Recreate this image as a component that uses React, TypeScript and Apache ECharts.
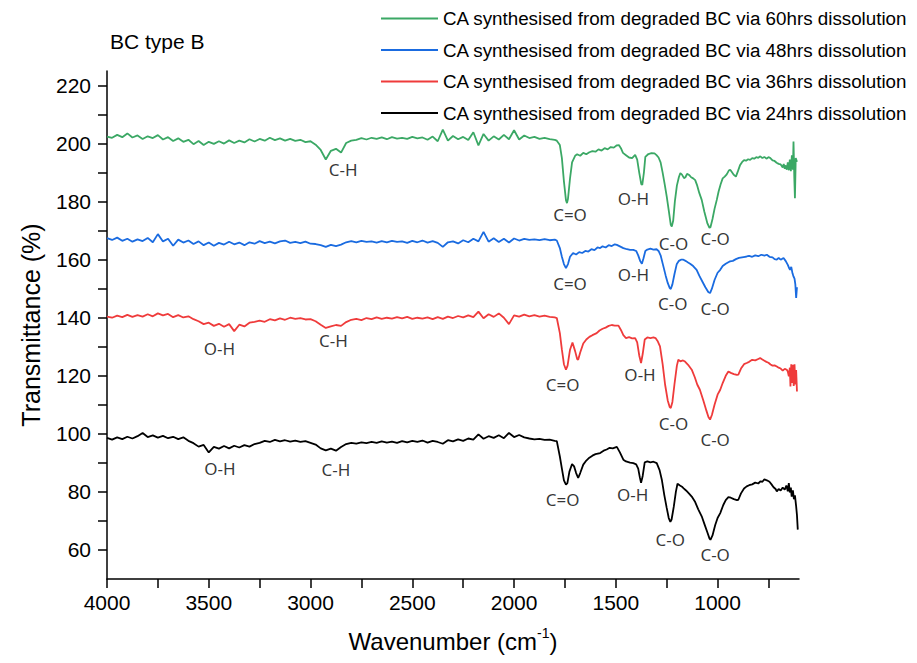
import React, { useEffect, useRef } from "react";
import * as echarts from "echarts";

// Shared wavenumber grid for the noisy baseline region (cm-1)
const wnBase = [
  4000, 3975, 3950, 3925, 3900, 3875, 3850, 3825, 3800, 3775,
  3750, 3725, 3700, 3675, 3650, 3625, 3600, 3575, 3550, 3525,
  3500, 3475, 3450, 3425, 3400, 3375, 3350, 3325, 3300, 3275,
  3250, 3225, 3200, 3175, 3150, 3125, 3100, 3075, 3050, 3025,
  3000, 2975, 2950, 2925, 2900, 2875, 2850, 2825, 2800, 2775,
  2750, 2725, 2700, 2675, 2650, 2625, 2600, 2575, 2550, 2525,
  2500, 2475, 2450, 2425, 2400, 2375, 2350, 2325, 2300, 2275,
  2250, 2225, 2200, 2175, 2150, 2125, 2100, 2075, 2050, 2025,
  2000, 1975, 1950, 1925, 1900, 1875, 1850, 1825, 1800,
];

const greenBase = [
  202.4, 202.0, 203.0, 202.2, 203.5, 202.1, 202.8, 201.6, 202.5, 201.9,
  202.9, 201.4, 202.2, 200.9, 201.8, 200.6, 201.3, 199.8, 200.9, 199.5,
  200.6, 199.9, 200.8, 200.0, 201.1, 200.2, 201.0, 200.4, 201.5, 200.7,
  201.6, 201.0, 202.0, 201.2, 201.8, 201.0, 201.6, 200.9, 201.3, 200.5,
  200.8, 199.6, 197.8, 194.5, 197.5, 198.2, 196.9, 200.2, 201.0, 201.3,
  201.9, 201.4, 202.0, 201.6, 202.1, 201.5, 202.2, 201.7, 202.0, 201.6,
  202.3, 201.8, 202.1, 201.3, 202.4, 200.8, 204.8, 201.0, 202.6, 201.5,
  202.3, 201.2, 203.9, 199.4, 203.3, 201.0, 202.5, 201.4, 203.0, 201.5,
  204.6, 201.4, 202.8, 201.9, 202.3, 201.6, 202.0, 201.5, 201.3,
];

const blueBase = [
  167.4, 166.8, 167.6, 166.5, 167.2, 166.2, 167.0, 166.4, 167.5, 166.0,
  168.8, 166.3, 167.2, 164.8, 166.9, 165.9, 166.6, 165.4, 166.3, 165.0,
  165.9, 164.8, 165.8, 165.2, 166.2, 165.3, 165.9, 165.0, 166.0, 165.5,
  166.4, 165.7, 166.2, 165.6, 166.3, 166.6, 165.8, 166.1, 165.7, 166.2,
  165.5, 165.4, 165.0, 164.4, 165.1, 164.7, 165.2, 166.0, 166.4, 166.0,
  166.5, 166.1, 166.3, 165.9, 166.4, 166.0, 166.5, 166.1, 166.3, 165.8,
  166.5, 166.0, 166.6, 165.9, 166.4, 165.8, 164.4, 166.0, 166.3, 165.6,
  166.7, 166.0, 167.2, 166.3, 169.6, 166.2, 167.4, 166.1, 167.2, 165.9,
  167.3, 166.6, 167.2, 166.8, 167.0, 166.7, 167.1, 166.7, 166.9,
];

const redBase = [
  140.4, 140.0, 140.7, 140.2, 141.0, 140.3, 140.9, 140.4, 141.2, 140.5,
  141.5, 140.8, 141.3, 140.2, 140.9, 140.1, 140.5, 139.5, 138.8, 137.8,
  138.3, 137.2, 137.9, 136.9, 137.8, 135.4, 137.6, 137.0, 138.3, 138.6,
  139.0, 138.6, 139.5, 139.1, 139.8, 139.3, 140.0, 139.6, 139.9, 139.4,
  139.5, 138.8, 137.6, 136.5, 137.0, 137.5, 137.2, 138.5, 139.3, 139.6,
  139.2, 139.9, 139.5, 140.1, 139.6, 140.0, 139.7, 140.2, 139.8, 140.3,
  139.6, 140.0, 139.7, 140.1, 139.5, 140.2, 139.6, 140.4, 139.9, 140.6,
  140.1, 140.8, 140.2, 142.1, 139.8, 141.2, 140.3, 141.5, 140.0, 137.8,
  140.8, 140.4, 141.1, 140.5, 140.9, 140.4, 140.7, 140.3, 140.1,
];

const blackBase = [
  98.6, 98.0, 98.8, 98.2, 99.0, 98.4, 99.2, 100.3, 98.9, 99.5,
  98.7, 99.3, 98.5, 99.0, 98.2, 98.8, 97.6, 96.8, 95.6, 96.2,
  93.6, 95.5, 94.9, 95.8, 95.0, 95.9, 95.3, 96.1, 95.6, 96.5,
  96.9, 97.6, 97.2, 97.9, 97.4, 97.8, 97.3, 97.7, 97.2, 97.5,
  96.9, 96.3, 95.0, 94.3, 94.9, 94.2, 95.5, 96.5, 96.9, 96.6,
  97.1, 96.8, 97.2, 96.9, 97.4, 97.0, 97.3, 96.9, 97.5, 97.1,
  97.6, 97.2, 97.7, 97.0, 97.6, 97.2, 96.6, 97.8, 97.4, 98.1,
  97.6, 98.4, 98.0, 99.8, 98.3, 99.2, 98.6, 99.5, 98.5, 100.3,
  98.9, 99.6, 98.8, 98.4, 98.1, 98.3, 97.9, 98.0, 97.6,
];

// Fingerprint region [wavenumber, transmittance]
const greenPeaks = [
  [1790, 201.0], [1775, 199.5], [1765, 195], [1755, 187], [1745, 180.5], [1740, 179.5],
  [1735, 181], [1725, 188], [1715, 193.5], [1700, 195.8], [1690, 196.3], [1675, 195.8],
  [1660, 196.8], [1645, 196.3], [1630, 197.0], [1615, 197.4], [1600, 197.2], [1585, 198.0],
  [1570, 197.6], [1555, 198.4], [1540, 198.0], [1525, 198.8], [1510, 198.6], [1495, 199.4],
  [1485, 199.5], [1475, 198.4], [1465, 196.8], [1450, 196.0], [1435, 195.2], [1420, 195.0],
  [1405, 196.1], [1395, 194.5], [1385, 190], [1375, 186], [1370, 185.8], [1362, 190],
  [1355, 195.4], [1340, 196.4], [1325, 196.7], [1310, 196.6], [1300, 196.0], [1290, 195.2],
  [1280, 193.5], [1270, 190], [1260, 186], [1250, 181.8], [1240, 177], [1230, 172],
  [1225, 171.4], [1218, 173.5], [1210, 180], [1200, 185.5], [1190, 188.5], [1183, 189.8],
  [1175, 189.3], [1165, 188.1], [1158, 188.4], [1150, 189.6], [1140, 189.2], [1130, 188.4],
  [1120, 188.0], [1110, 187.4], [1100, 185.5], [1090, 183], [1078, 180.6], [1065, 176.5],
  [1050, 172.5], [1040, 171], [1035, 171.2], [1025, 174], [1015, 177.5], [1004, 180.6],
  [995, 183.5], [985, 186], [975, 188], [965, 188.6], [955, 189.4], [945, 190.7],
  [938, 191], [930, 190.2], [920, 189.2], [910, 188.6], [900, 190.5], [890, 192.5],
  [880, 193.6], [870, 194.3], [860, 194.1], [850, 194.6], [840, 194.4], [830, 195.0],
  [820, 194.8], [810, 195.3], [800, 195.1], [790, 195.6], [780, 195.0], [770, 195.4],
  [760, 194.8], [750, 195.3], [742, 195.1], [730, 194.2], [720, 194.0], [710, 193.4],
  [700, 193.0], [690, 192.8], [680, 191.8], [675, 193.0], [670, 191.3], [665, 192.5],
  [660, 191.0], [655, 193.5], [650, 190.8], [645, 194.5], [640, 190.5], [635, 196],
  [630, 191], [627, 200.7], [623, 188], [620, 181.2], [616, 195], [610, 193.7],
];

const bluePeaks = [
  [1790, 166.6], [1775, 164], [1765, 161], [1755, 158.5], [1745, 157.1], [1735, 158.5],
  [1725, 161], [1710, 162.3], [1695, 161.8], [1680, 162.6], [1665, 162.3], [1650, 163.0],
  [1635, 162.8], [1620, 163.6], [1605, 163.3], [1590, 164.2], [1577, 164.0], [1565, 164.6],
  [1550, 164.2], [1535, 165.0], [1520, 164.7], [1505, 165.3], [1495, 165.1], [1480, 164.6],
  [1463, 164.0], [1445, 163.6], [1430, 163.4], [1414, 163.4], [1400, 163.0], [1390, 161.5],
  [1380, 159.5], [1372, 158.6], [1364, 160.5], [1355, 163.0], [1345, 163.5], [1330, 163.8],
  [1315, 163.5], [1300, 163.6], [1290, 163.0], [1280, 161.5], [1266, 157.6], [1255, 154.5],
  [1245, 152], [1235, 150.2], [1230, 149.9], [1222, 151.5], [1212, 155], [1201, 158.4],
  [1190, 159.6], [1180, 160.0], [1168, 160.0], [1155, 159.5], [1145, 159.0], [1135, 158.6],
  [1120, 157.8], [1103, 156.5], [1090, 154.5], [1075, 152.5], [1060, 150.5], [1045, 148.8],
  [1037, 148.5], [1028, 150], [1015, 153], [1000, 155.5], [987, 156.5], [975, 157.8],
  [960, 158.6], [945, 159.2], [939, 159.4], [925, 159.6], [910, 160.2], [895, 160.6],
  [880, 160.8], [865, 161.0], [857, 161.1], [845, 161.3], [830, 161.0], [815, 161.5],
  [800, 161.2], [785, 161.7], [770, 161.4], [758, 161.7], [745, 161.0], [730, 160.8],
  [720, 160.2], [709, 160.0], [700, 160.6], [690, 160.0], [676, 160.6], [665, 159.5],
  [655, 158.2], [648, 157.0], [644, 156.5], [638, 157.5], [632, 155.3], [627, 154.2],
  [622, 153.5], [618, 151.5], [614, 146.8], [610, 150.5],
];

const redPeaks = [
  [1790, 139.9], [1775, 134.7], [1765, 129], [1755, 124], [1745, 122.1], [1737, 123.5],
  [1725, 129], [1713, 131.5], [1700, 128.5], [1690, 125.8], [1685, 125.5], [1675, 128],
  [1660, 131.1], [1645, 132.5], [1630, 133.4], [1615, 134.0], [1594, 134.7], [1580, 135.6],
  [1565, 136.2], [1550, 136.6], [1535, 137.2], [1520, 137.5], [1505, 137.3], [1487, 137.3],
  [1475, 135.8], [1463, 134.0], [1450, 133.0], [1435, 133.3], [1420, 132.9], [1405, 133.0],
  [1395, 131.5], [1385, 127], [1376, 124.4], [1368, 127.5], [1358, 132.5], [1345, 133.2],
  [1330, 133.0], [1315, 133.2], [1305, 133.0], [1295, 132.0], [1283, 130.1], [1270, 124],
  [1258, 117], [1245, 111.5], [1235, 109.2], [1230, 108.9], [1222, 111], [1212, 117],
  [1200, 123.5], [1193, 125.5], [1183, 125.0], [1170, 125.3], [1160, 124.9], [1145, 123.8],
  [1127, 122.1], [1112, 119.5], [1100, 117], [1087, 115.2], [1070, 111.5], [1055, 108],
  [1045, 105.8], [1037, 104.9], [1028, 106.5], [1015, 110], [1000, 113.5], [987, 115.2],
  [975, 117.5], [960, 120], [947, 121.5], [935, 121.0], [920, 120.6], [905, 120.3],
  [898, 120.4], [885, 122.5], [870, 124], [857, 124.4], [845, 124.8], [830, 125.5],
  [815, 125.3], [800, 125.8], [791, 126.1], [780, 125.6], [770, 125.2], [760, 124.8],
  [750, 124.5], [740, 123.9], [730, 123.5], [720, 123.6], [709, 123.2], [700, 122.8],
  [690, 122.5], [680, 121.8], [670, 122.4], [660, 122.1], [655, 121.5], [650, 119.8],
  [645, 122.8], [642, 116.3], [638, 124], [634, 117.5], [630, 123.8], [626, 116.5],
  [622, 124], [618, 117], [614, 122], [610, 114.6],
];

const blackPeaks = [
  [1790, 97.5], [1775, 92.2], [1765, 88], [1755, 84], [1745, 82.5], [1738, 83],
  [1728, 87], [1715, 89.6], [1705, 88.8], [1695, 86.5], [1685, 84.8], [1675, 86.5],
  [1660, 89.4], [1645, 90.8], [1630, 91.8], [1615, 92.5], [1600, 93.0], [1577, 93.4],
  [1560, 94.2], [1545, 94.6], [1530, 95.2], [1515, 95.0], [1495, 95.5], [1480, 93.6],
  [1463, 91.1], [1450, 90.5], [1430, 90.1], [1414, 89.9], [1400, 89.5], [1390, 88],
  [1382, 85], [1376, 83.1], [1368, 85.5], [1358, 90.2], [1345, 90.5], [1330, 90.2],
  [1315, 90.4], [1299, 89.9], [1285, 87.5], [1274, 84.2], [1262, 79], [1250, 74.5],
  [1240, 71], [1232, 69.7], [1226, 70.5], [1215, 75], [1205, 80], [1197, 82.8],
  [1185, 82.2], [1175, 81.8], [1168, 81.3], [1155, 80.5], [1140, 79.4], [1127, 78.4],
  [1110, 76.5], [1095, 74], [1078, 71.6], [1065, 69], [1050, 66], [1040, 64],
  [1035, 63.5], [1025, 65], [1012, 68.5], [1000, 71], [987, 72.7], [972, 75.5],
  [960, 77.2], [947, 78.2], [935, 78.0], [920, 77.5], [905, 77.2], [898, 77.3],
  [885, 79.5], [870, 81.2], [857, 81.9], [845, 82.3], [830, 82.6], [815, 83.2],
  [800, 82.9], [790, 83.6], [780, 83.5], [770, 84.3], [758, 84.0], [745, 83.5],
  [735, 82.6], [725, 81.6], [715, 81.0], [709, 80.2], [700, 81.0], [690, 80.5],
  [680, 81.5], [670, 80.8], [662, 82.2], [655, 80.2], [650, 83.0], [645, 79.8],
  [640, 81.5], [636, 78.4], [630, 80.5], [625, 77.5], [620, 78.8], [614, 75.0],
  [610, 72], [606, 67],
];

const seriesNames = [
  "CA synthesised from degraded BC via 60hrs dissolution",
  "CA synthesised from degraded BC via 48hrs dissolution",
  "CA synthesised from degraded BC via 36hrs dissolution",
  "CA synthesised from degraded BC via 24hrs dissolution",
];
const seriesColors = ["#3BA865", "#1A6BE0", "#EF3B3B", "#000000"];

// Peak annotations
const annoText = [
  "C-H", "C=O", "O-H", "C-O", "C-O",
  "C=O", "O-H", "C-O", "C-O",
  "O-H", "C-H", "C=O", "O-H", "C-O", "C-O",
  "O-H", "C-H", "C=O", "O-H", "C-O", "C-O",
];
const annoWn = [
  2840, 1725, 1414, 1217, 1012,
  1725, 1414, 1220, 1012,
  3448, 2888, 1761, 1381, 1217, 1012,
  3445, 2875, 1761, 1417, 1233, 1012,
];
const annoVal = [
  190.9, 175.4, 181.2, 165.7, 167.2,
  151.9, 154.8, 145.0, 143.3,
  129.5, 132.1, 116.9, 120.3, 103.7, 98.2,
  88.0, 87.7, 77.3, 79.0, 63.5, 58.4,
];

const xTicks = [4000, 3750, 3500, 3250, 3000, 2750, 2500, 2250, 2000, 1750, 1500, 1250, 1000, 750];
const xLabels = [4000, 3500, 3000, 2500, 2000, 1500, 1000];
const yTicks = [60, 70, 80, 90, 100, 110, 120, 130, 140, 150, 160, 170, 180, 190, 200, 210, 220];
const yLabels = [60, 80, 100, 120, 140, 160, 180, 200, 220];

export default function App() {
  const ref = useRef<HTMLDivElement>(null);
  useEffect(() => {
    if (!ref.current) return;
    const chart = echarts.init(ref.current, null, { renderer: "svg" });
    const mk = (base: number[], peaks: number[][]) => [
      ...wnBase.map((w, i) => [w, base[i]]),
      ...peaks,
    ];
    const dataSets = [
      mk(greenBase, greenPeaks),
      mk(blueBase, bluePeaks),
      mk(redBase, redPeaks),
      mk(blackBase, blackPeaks),
    ];
    const axisFont = "Liberation Sans, Arial, sans-serif";
    const option: any = {
      animation: false,
      grid: { left: 107, right: 118, top: 71, bottom: 84 },
      legend: {
        data: seriesNames,
        orient: "vertical",
        left: 376,
        top: 4,
        icon: "rect",
        itemWidth: 57,
        itemHeight: 2,
        itemGap: 12.5,
        textStyle: { fontSize: 18.8, lineHeight: 19, fontFamily: axisFont, color: "#000" },
        selectedMode: false,
      },
      graphic: [
        {
          type: "text",
          left: 110,
          top: 31,
          style: { text: "BC type B", fontSize: 21, fontFamily: axisFont, fill: "#000" },
        },
      ],
      xAxis: {
        type: "value",
        inverse: true,
        min: 600,
        max: 4000,
        axisLine: { show: true, lineStyle: { color: "#000", width: 1.5 } },
        axisTick: { show: true, customValues: xTicks, length: 9, lineStyle: { color: "#000", width: 1.5 } },
        axisLabel: {
          customValues: xLabels,
          formatter: (v: number) => String(v),
          fontSize: 21,
          fontFamily: axisFont,
          color: "#000",
          margin: 13,
        },
        splitLine: { show: false },
        name: "{a|Wavenumber (cm}{b|-1}{a|)}",
        nameLocation: "middle",
        nameGap: 47,
        nameTextStyle: {
          rich: {
            a: { fontSize: 24, fontFamily: axisFont, color: "#000", lineHeight: 30 },
            b: { fontSize: 14, fontFamily: axisFont, color: "#000", lineHeight: 14, verticalAlign: "top" },
          },
        },
      },
      yAxis: {
        type: "value",
        min: 50,
        max: 225,
        axisLine: { show: true, lineStyle: { color: "#000", width: 1.5 } },
        axisTick: { show: true, customValues: yTicks, length: 9, lineStyle: { color: "#000", width: 1.5 } },
        axisLabel: {
          customValues: yLabels,
          formatter: (v: number) => String(v),
          fontSize: 21,
          fontFamily: axisFont,
          color: "#000",
          margin: 16,
        },
        splitLine: { show: false },
        name: "Transmittance (%)",
        nameLocation: "middle",
        nameGap: 64,
        nameTextStyle: { fontSize: 25, fontFamily: axisFont, color: "#000" },
      },
      series: [
        ...seriesNames.map((name, i) => ({
          name,
          type: "line",
          data: dataSets[i],
          symbol: "none",
          showSymbol: false,
          color: seriesColors[i],
          lineStyle: { color: seriesColors[i], width: 1.8 },
          silent: true,
        })),
        {
          type: "scatter",
          name: "annotations",
          data: annoWn.map((w, i) => ({ value: [w, annoVal[i]], label: { formatter: annoText[i] } })),
          symbolSize: 1,
          itemStyle: { color: "rgba(0,0,0,0)" },
          label: {
            show: true,
            position: "inside",
            fontSize: 17,
            fontFamily: "Noto Sans, DejaVu Sans, sans-serif",
            color: "#000",
          },
          silent: true,
          z: 5,
        },
      ],
    };
    chart.setOption(option);
    return () => chart.dispose();
  }, []);
  return (
    <div
      ref={ref}
      style={{ position: "fixed", left: 0, top: 0, width: 917, height: 663, background: "#fff" }}
    />
  );
}
